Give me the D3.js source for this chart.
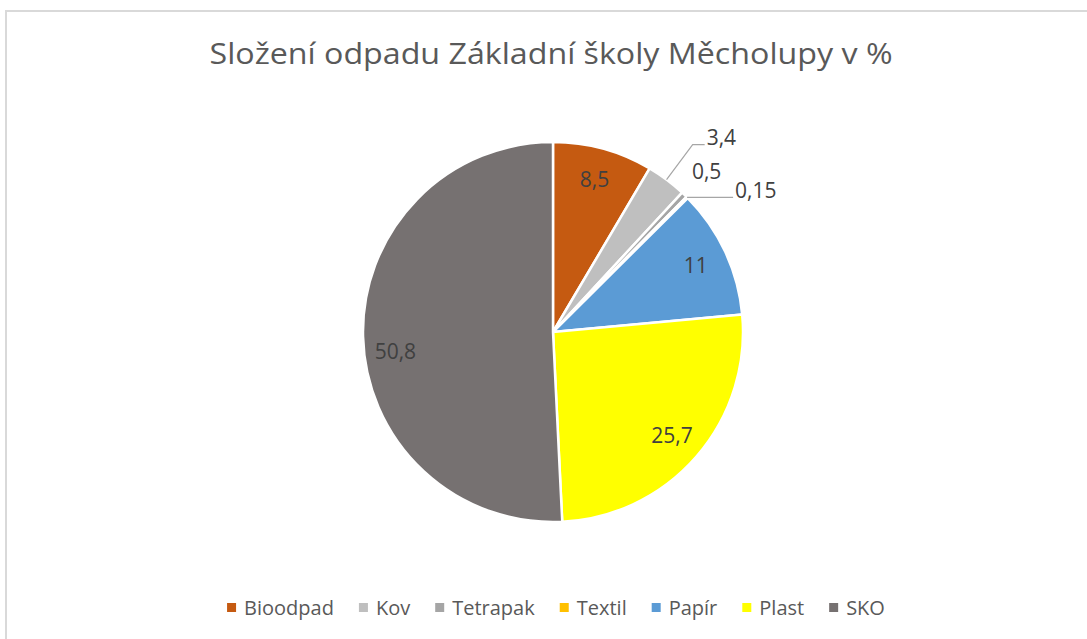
<!DOCTYPE html>
<html>
<head>
<meta charset="utf-8">
<script src="https://cdn.jsdelivr.net/npm/d3@7"></script>
<style>
body { margin: 0; background: #fff; }
text { font-family: 'Open Sans', sans-serif; }
</style>
</head>
<body>
<div id="container"></div>
<script>
const TITLE = 'Složení odpadu Základní školy Měcholupy v %'
const categories = ['Bioodpad', 'Kov', 'Tetrapak', 'Textil', 'Papír', 'Plast', 'SKO']
const values = [8.5, 3.4, 0.5, 0.15, 11, 25.7, 50.8]
const valueLabels = ['8,5', '3,4', '0,5', '0,15', '11', '25,7', '50,8']
const colors = ['#c55a11', '#bfbfbf', '#a5a5a5', '#ffc000', '#5b9bd5', '#ffff00', '#767171']

// label placement per slice: inside, outside, or outside with a leader line
const labelMode = ['in', 'leader', 'out', 'leader', 'in', 'in', 'in']
const leaderShape = {'Kov': [1.23, 12], 'Textil': [1.0, 46]}

const W = 1087, H = 639
const cx = 553, cy = 332, R = 190
const LABEL_SIZE = 21

var svg = d3.select('#container').append('svg')
    .attr('width', W)
    .attr('height', H)

// chart frame
svg.append('rect')
    .attr('x', 6).attr('y', 11)
    .attr('width', W + 10).attr('height', H + 10)
    .attr('fill', 'none')
    .attr('stroke', '#d9d9d9')
    .attr('stroke-width', 2)

svg.append('text')
    .attr('x', 551).attr('y', 64)
    .attr('text-anchor', 'middle')
    .attr('font-size', 30)
    .attr('textLength', 683)
    .attr('lengthAdjust', 'spacingAndGlyphs')
    .attr('fill', '#595959')
    .text(TITLE)

var data = categories.map((c, i) => ({name: c, value: values[i], label: valueLabels[i], color: colors[i], mode: labelMode[i]}))

var pie = d3.pie().sort(null).value(d => d.value)
var arc = d3.arc().innerRadius(0).outerRadius(R)
var arcs = pie(data)

var g = svg.append('g').attr('transform', 'translate(' + cx + ',' + cy + ')')

g.selectAll('path.slice')
    .data(arcs)
    .enter().append('path')
    .attr('class', 'slice')
    .attr('d', arc)
    .attr('fill', d => d.data.color)
    .attr('stroke', '#fff')
    .attr('stroke-width', 2.5)
    .attr('stroke-linejoin', 'round')

function polar(a, r) {
    return [Math.sin(a) * r, -Math.cos(a) * r]
}

function addLabel(x, y, anchor, txt) {
    g.append('text')
        .attr('x', x).attr('y', y)
        .attr('dy', '0.35em')
        .attr('text-anchor', anchor)
        .attr('font-size', LABEL_SIZE)
        .attr('fill', '#404040')
        .text(txt)
}

arcs.forEach(function(d) {
    var mid = (d.startAngle + d.endAngle) / 2
    if (d.data.mode == 'in') {
        var p = polar(mid, R * 0.83)
        // the big slice label sits a little lower, as Excel's best fit puts it
        if (d.data.name == 'SKO') p[1] += 16
        addLabel(p[0], p[1], 'middle', d.data.label)
    } else if (d.data.mode == 'out') {
        var p = polar(mid, R * 1.17)
        addLabel(p[0], p[1], 'middle', d.data.label)
    } else {
        var shape = leaderShape[d.data.name]
        var p0 = polar(mid, R)
        var p1 = polar(mid, R * shape[0])
        var p2 = [p1[0] + shape[1], p1[1]]
        g.append('polyline')
            .attr('points', [p0, p1, p2].map(p => p.join(',')).join(' '))
            .attr('fill', 'none')
            .attr('stroke', '#a6a6a6')
            .attr('stroke-width', 1.2)
        addLabel(p2[0] + 2, p2[1] - 7, 'start', d.data.label)
    }
})

// legend
var legend = svg.append('g')
var items = legend.selectAll('g.item')
    .data(data)
    .enter().append('g')
    .attr('class', 'item')

items.append('rect')
    .attr('width', 9).attr('height', 9)
    .attr('y', 603)
    .attr('fill', d => d.color)

items.append('text')
    .attr('x', 17).attr('y', 615)
    .attr('font-size', 20)
    .attr('fill', '#595959')
    .text(d => d.name)

var offsets = []
var total = 0
items.each(function(d, i) {
    var w = 17 + d3.select(this).select('text').node().getComputedTextLength()
    offsets.push(total)
    total += w + 25
})
total -= 25
var startX = 556 - total / 2
items.attr('transform', (d, i) => 'translate(' + (startX + offsets[i]) + ',0)')
</script>
</body>
</html>
